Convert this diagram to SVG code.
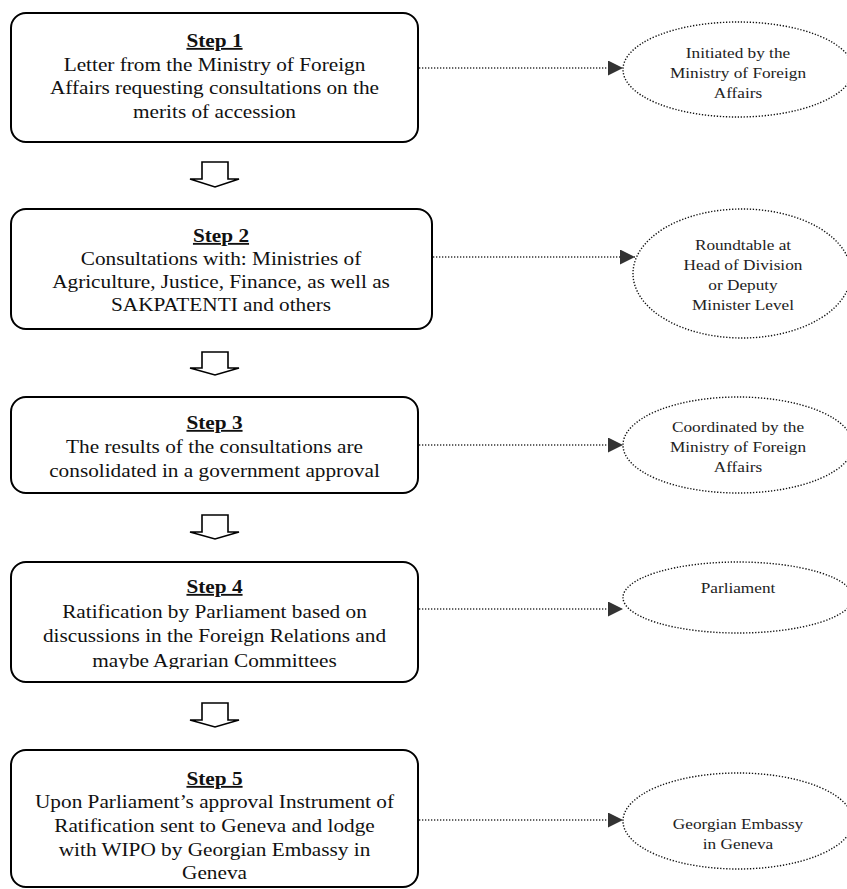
<svg xmlns="http://www.w3.org/2000/svg" width="847" height="889" viewBox="0 0 847 889">
<style>
  .box { fill: #ffffff; stroke: #000000; stroke-width: 2; }
  .oval { fill: #ffffff; stroke: #111111; stroke-width: 1.4; stroke-dasharray: 1.3 1.7; }
  .dot { fill: none; stroke: #333333; stroke-width: 1.4; stroke-dasharray: 1.3 1.7; }
  .blk { fill: #ffffff; stroke: #000000; stroke-width: 1.6; stroke-linejoin: miter; }
  .t { font-family: "Liberation Serif", "Times New Roman", serif; font-size: 18.5px; fill: #111111; text-anchor: middle; }
  .h { font-weight: bold; text-decoration: underline; }
  .s { font-family: "Liberation Serif", "Times New Roman", serif; font-size: 15px; fill: #222222; text-anchor: middle; }
</style>
<defs>
  <marker id="ah" markerUnits="userSpaceOnUse" markerWidth="16" markerHeight="16" refX="15" refY="7.5" orient="auto">
    <path d="M0,0 L15,7.5 L0,15 Z" fill="#333333"/>
  </marker>
  <clipPath id="clip4">
    <rect x="11" y="562" width="407" height="107"/>
  </clipPath>
</defs>

<g id="connectors">
  <line class="dot" x1="419" y1="68" x2="623" y2="68" marker-end="url(#ah)"/>
  <line class="dot" x1="433" y1="257" x2="635" y2="257" marker-end="url(#ah)"/>
  <line class="dot" x1="419" y1="445" x2="623" y2="445" marker-end="url(#ah)"/>
  <line class="dot" x1="419" y1="609" x2="623" y2="609" marker-end="url(#ah)"/>
  <line class="dot" x1="419" y1="820" x2="623" y2="820" marker-end="url(#ah)"/>
  <path class="blk" d="M202,162 L228,162 L228,179 L239,179 L215,187 L190,179 L202,179 Z"/>
  <path class="blk" d="M202,352 L228,352 L228,368 L239,368 L215,375 L190,368 L202,368 Z"/>
  <path class="blk" d="M202,515 L228,515 L228,532 L239,532 L215,539 L190,532 L202,532 Z"/>
  <path class="blk" d="M202,703 L228,703 L228,720 L239,720 L215,727 L190,720 L202,720 Z"/>
</g>

<g id="step1">
  <rect class="box" x="11" y="13" width="407" height="129" rx="15" ry="15"/>
  <g transform="translate(214.5 0) scale(1.15 1)">
    <text class="t h" x="0" y="47">Step 1</text>
    <text class="t" x="0" y="71">Letter from the Ministry of Foreign</text>
    <text class="t" x="0" y="94.5">Affairs requesting consultations on the</text>
    <text class="t" x="0" y="118">merits of accession</text>
  </g>
</g>

<g id="note1">
  <ellipse class="oval" cx="738" cy="69.5" rx="115" ry="47.5"/>
  <g transform="translate(738 0) scale(1.15 1)">
    <text class="s" x="0" y="58">Initiated by the</text>
    <text class="s" x="0" y="78">Ministry of Foreign</text>
    <text class="s" x="0" y="98">Affairs</text>
  </g>
</g>

<g id="step2">
  <rect class="box" x="11" y="209" width="421" height="120" rx="15" ry="15"/>
  <g transform="translate(221 0) scale(1.15 1)">
    <text class="t h" x="0" y="242">Step 2</text>
    <text class="t" x="0" y="265">Consultations with: Ministries of</text>
    <text class="t" x="0" y="288">Agriculture, Justice, Finance, as well as</text>
    <text class="t" x="0" y="311">SAKPATENTI and others</text>
  </g>
</g>

<g id="note2">
  <ellipse class="oval" cx="742" cy="273.5" rx="109" ry="64.5"/>
  <g transform="translate(743 0) scale(1.15 1)">
    <text class="s" x="0" y="250">Roundtable at</text>
    <text class="s" x="0" y="270.5">Head of Division</text>
    <text class="s" x="0" y="290.5">or Deputy</text>
    <text class="s" x="0" y="310">Minister Level</text>
  </g>
</g>

<g id="step3">
  <rect class="box" x="11" y="397" width="407" height="96" rx="15" ry="15"/>
  <g transform="translate(214.5 0) scale(1.15 1)">
    <text class="t h" x="0" y="429">Step 3</text>
    <text class="t" x="0" y="453">The results of the consultations are</text>
    <text class="t" x="0" y="477">consolidated in a government approval</text>
  </g>
</g>

<g id="note3">
  <ellipse class="oval" cx="738" cy="445" rx="115" ry="48"/>
  <g transform="translate(738 0) scale(1.15 1)">
    <text class="s" x="0" y="432">Coordinated by the</text>
    <text class="s" x="0" y="452">Ministry of Foreign</text>
    <text class="s" x="0" y="472">Affairs</text>
  </g>
</g>

<g id="step4">
  <rect class="box" x="11" y="562" width="407" height="120" rx="15" ry="15"/>
  <g clip-path="url(#clip4)">
    <g transform="translate(214.5 0) scale(1.15 1)">
      <text class="t h" x="0" y="593">Step 4</text>
      <text class="t" x="0" y="618">Ratification by Parliament based on</text>
      <text class="t" x="0" y="642">discussions in the Foreign Relations and</text>
      <text class="t" x="0" y="667">maybe Agrarian Committees</text>
    </g>
  </g>
</g>

<g id="note4">
  <ellipse class="oval" cx="738" cy="597.5" rx="115" ry="35.5"/>
  <g transform="translate(738 0) scale(1.15 1)">
    <text class="s" x="0" y="593">Parliament</text>
  </g>
</g>

<g id="step5">
  <rect class="box" x="11" y="750" width="407" height="137" rx="15" ry="15"/>
  <g transform="translate(214.5 0) scale(1.15 1)">
    <text class="t h" x="0" y="785">Step 5</text>
    <text class="t" x="0" y="808">Upon Parliament’s approval Instrument of</text>
    <text class="t" x="0" y="832">Ratification sent to Geneva and lodge</text>
    <text class="t" x="0" y="856">with WIPO by Georgian Embassy in</text>
    <text class="t" x="0" y="879">Geneva</text>
  </g>
</g>

<g id="note5">
  <ellipse class="oval" cx="738" cy="821" rx="115" ry="48"/>
  <g transform="translate(738 0) scale(1.15 1)">
    <text class="s" x="0" y="829">Georgian Embassy</text>
    <text class="s" x="0" y="849">in Geneva</text>
  </g>
</g>
</svg>
